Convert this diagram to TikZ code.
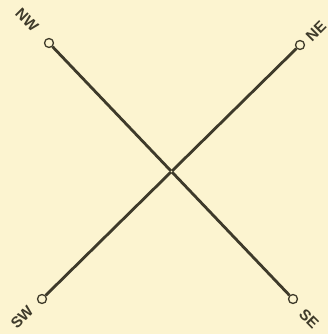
\documentclass[tikz,border=0pt]{standalone}
\usepackage{fontspec}
\setsansfont{Liberation Sans}
\usetikzlibrary{positioning}

\definecolor{paper}{HTML}{FCF4D0}
\definecolor{ink}{HTML}{3E3A2A}

\begin{document}
\begin{tikzpicture}[
    x=0.03cm, y=-0.03cm,
    eye/.style={circle, draw=ink, line width=1.1pt, fill=paper, inner sep=0pt,
        minimum size=0.27cm},
    rod/.style={draw=ink, line width=2.4pt},
    lbl/.style={text=ink, font=\sffamily\bfseries\fontsize{13}{15}\selectfont,
        inner sep=0pt}
]
\fill[paper] (0,0) rectangle (328,334);
\useasboundingbox (0,0) rectangle (328,334);
\node[eye] (nw) at (49,43)   {};
\node[eye] (ne) at (300,45)  {};
\node[eye] (sw) at (42,299)  {};
\node[eye] (se) at (293,299) {};
\coordinate (mid) at (171.5,171.5);
\draw[rod] (nw) -- (se);
\draw[rod] (ne) -- (sw);
\fill[paper] (mid) circle (0.7pt);
\node[lbl, rotate=-45] (nwlbl) at (27,20)  {NW};
\node[lbl, rotate=45]  (nelbl) at (316,31) {NE};
\node[lbl, rotate=45]  (swlbl) at (22,317) {SW};
\node[lbl, rotate=-45] (selbl) at (309,319) {SE};
\end{tikzpicture}
\end{document}
